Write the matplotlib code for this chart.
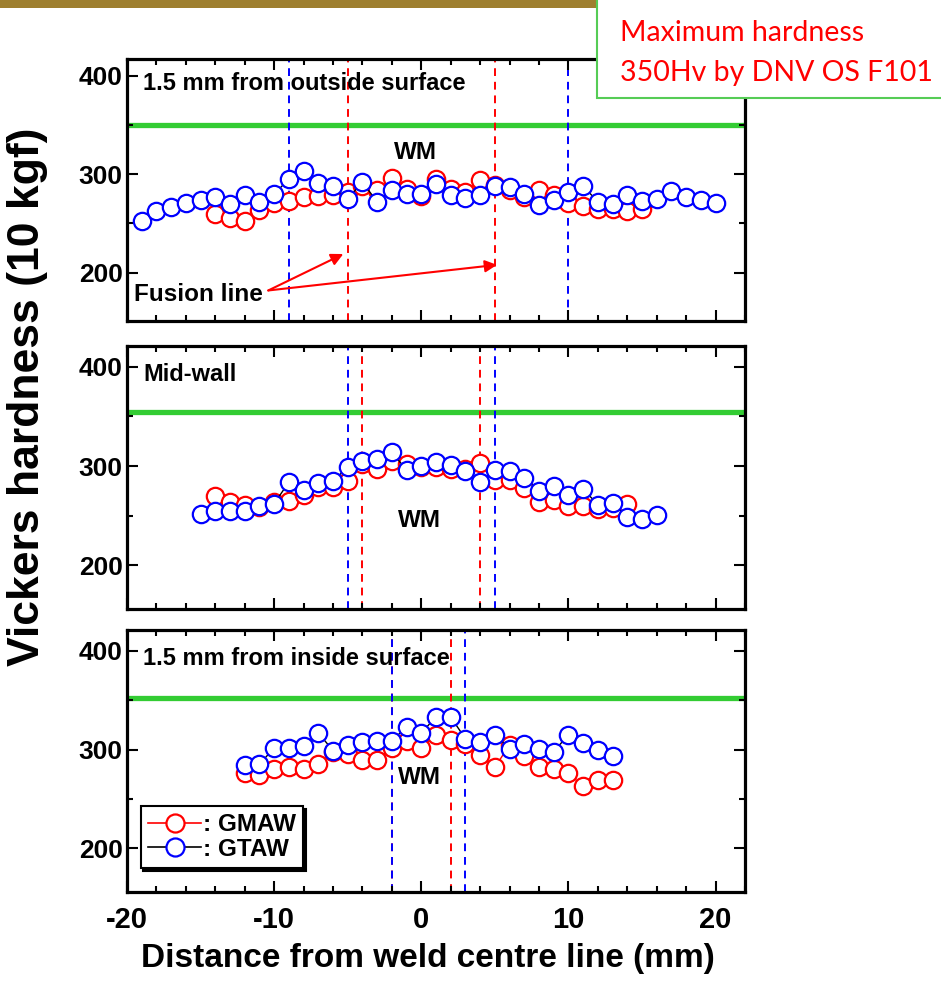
import matplotlib
matplotlib.use("Agg")
import matplotlib.pyplot as plt
from matplotlib.lines import Line2D
from matplotlib.patches import Rectangle
from matplotlib.ticker import MultipleLocator

plt.rcParams['font.family'] = ['Liberation Sans', 'DejaVu Sans']
plt.rcParams['font.weight'] = 'bold'
plt.rcParams['axes.unicode_minus'] = False

# ---- data (hardness readings, Hv10) ----
out_gmaw_x = [-14, -13, -12, -11, -10, -9, -8, -7, -6, -5, -4, -3, -2, -1, 0,
              1, 2, 3, 4, 5, 6, 7, 8, 9, 10, 11, 12, 13, 14, 15]
out_gmaw_hv = [260, 256, 253, 264, 271, 273, 277, 278, 279, 282, 288, 284, 296, 285, 278,
               295, 285, 282, 294, 289, 284, 277, 284, 279, 271, 268, 265, 265, 263, 265]
out_gtaw_x = [-19, -18, -17, -16, -15, -14, -13, -12, -11, -10, -9, -8, -7, -6, -5,
              -4, -3, -2, -1, 0, 1, 2, 3, 4, 5, 6, 7, 8, 9, 10,
              11, 12, 13, 14, 15, 16, 17, 18, 19, 20]
out_gtaw_hv = [253, 263, 267, 271, 274, 277, 270, 279, 272, 280, 295, 303, 291, 288, 275,
               292, 272, 284, 280, 280, 290, 279, 276, 279, 288, 287, 280, 269, 274, 282,
               288, 272, 270, 279, 273, 275, 283, 277, 274, 271]

mid_gmaw_x = [-14, -13, -12, -11, -10, -9, -8, -7, -6, -5, -4, -3, -2, -1, 0,
              1, 2, 3, 4, 5, 6, 7, 8, 9, 10, 11, 12, 13, 14]
mid_gmaw_hv = [270, 264, 261, 259, 264, 265, 271, 279, 279, 285, 302, 297, 305, 302, 299,
               299, 297, 297, 303, 286, 286, 278, 264, 266, 260, 260, 257, 258, 262]
mid_gtaw_x = [-15, -14, -13, -12, -11, -10, -9, -8, -7, -6, -5, -4, -3, -2, -1, 0,
              1, 2, 3, 4, 5, 6, 7, 8, 9, 10, 11, 12, 13, 14, 15, 16]
mid_gtaw_hv = [252, 255, 255, 255, 260, 262, 284, 276, 283, 285, 299, 305, 307, 314, 296, 300,
               304, 301, 295, 284, 296, 295, 288, 275, 280, 271, 277, 261, 263, 249, 247, 251]

in_gmaw_x = [-12, -11, -10, -9, -8, -7, -6, -5, -4, -3, -2, -1, 0,
             1, 2, 3, 4, 5, 6, 7, 8, 9, 10, 11, 12, 13]
in_gmaw_hv = [276, 274, 280, 282, 280, 285, 298, 296, 290, 290, 302, 309, 302,
              315, 310, 306, 295, 282, 305, 294, 282, 280, 276, 263, 269, 269]
in_gtaw_x = [-12, -11, -10, -9, -8, -7, -6, -5, -4, -3, -2, -1, 0,
             1, 2, 3, 4, 5, 6, 7, 8, 9, 10, 11, 12, 13]
in_gtaw_hv = [284, 285, 302, 302, 304, 317, 299, 305, 308, 309, 309, 323, 317,
              333, 333, 311, 308, 315, 301, 306, 301, 298, 315, 307, 300, 294]

panel_titles = ['1.5 mm from outside surface', 'Mid-wall', '1.5 mm from inside surface']
fusion_gmaw = [[-5, 5], [-4, 4], [-2, 2]]
fusion_gtaw = [[-9, 10], [-5, 5], [-2, 3]]
limit_hv = [350, 354, 352]
wm_pos = [(-0.4, 322), (-0.1, 245), (-0.1, 272)]

series = [(out_gmaw_x, out_gmaw_hv, out_gtaw_x, out_gtaw_hv),
          (mid_gmaw_x, mid_gmaw_hv, mid_gtaw_x, mid_gtaw_hv),
          (in_gmaw_x, in_gmaw_hv, in_gtaw_x, in_gtaw_hv)]

W, H = 941, 981
fig = plt.figure(figsize=(W / 100, H / 100), dpi=100)

# panel boxes in pixels (top, bottom) and y ranges
boxes = [(59, 321), (346, 609), (630, 892)]
ylims = [(151, 417), (156, 421), (156, 421)]
left_px, right_px = 127, 745

axes = []
for i, (top, bot) in enumerate(boxes):
    ax = fig.add_axes([left_px / W, 1 - bot / H, (right_px - left_px) / W, (bot - top) / H])
    gx, gy, tx, ty = series[i]
    ax.axhline(limit_hv[i], color='#33CC33', lw=3.8, zorder=1)
    for xv in fusion_gmaw[i]:
        ax.axvline(xv, color='red', lw=1.4, ls=(0, (4, 3)), zorder=1)
    for xv in fusion_gtaw[i]:
        ax.axvline(xv, color='blue', lw=1.4, ls=(0, (4, 3)), zorder=1)
    ax.plot(gx, gy, '-o', color='red', lw=1, ms=12.5, mew=1.6, mfc='white', mec='red', zorder=3)
    ax.plot(tx, ty, '-o', color='black', lw=1, ms=12.5, mew=1.6, mfc='white', mec='blue', zorder=4)
    ax.set_xlim(-20, 22)
    ax.set_ylim(*ylims[i])
    ax.xaxis.set_major_locator(MultipleLocator(10))
    ax.xaxis.set_minor_locator(MultipleLocator(2))
    ax.yaxis.set_major_locator(MultipleLocator(100))
    ax.yaxis.set_minor_locator(MultipleLocator(50))
    ax.tick_params(which='both', direction='in', top=True, right=True, width=1.5)
    ax.tick_params(which='major', length=8)
    ax.tick_params(which='minor', length=4)
    ax.tick_params(axis='y', labelsize=19, pad=3)
    ax.tick_params(axis='x', labelsize=21, pad=10)
    for lab in ax.get_yticklabels() + ax.get_xticklabels():
        lab.set_fontweight('bold')
    for sp in ax.spines.values():
        sp.set_linewidth(2.3)
    if i < 2:
        ax.tick_params(axis='x', labelbottom=False)
    ax.text(-18.9, 392, panel_titles[i], fontsize=17, fontweight='bold', ha='left', va='center', zorder=5)
    ax.text(wm_pos[i][0], wm_pos[i][1], 'WM', fontsize=17.5, fontweight='bold', ha='center', va='center', zorder=5)
    axes.append(ax)

# fusion line annotation in the top panel
ax0 = axes[0]
ax0.text(-19.5, 178, 'Fusion line', fontsize=17.5, fontweight='bold', ha='left', va='center')
for end in [(-5.3, 219), (5.15, 208)]:
    ax0.annotate('', xy=end, xytext=(-10.4, 182),
                 arrowprops=dict(arrowstyle='-|>', color='red', lw=1.5, mutation_scale=18,
                                 shrinkA=0, shrinkB=0))

# legend in the bottom panel
handles = [Line2D([], [], color='red', lw=1.2, marker='o', ms=13, mfc='white', mec='red', mew=1.6),
           Line2D([], [], color='black', lw=1.2, marker='o', ms=13, mfc='white', mec='blue', mew=1.6)]
leg = axes[2].legend(handles, [': GMAW', ': GTAW'], loc='lower left', bbox_to_anchor=(0.022, 0.092),
                     borderaxespad=0, fancybox=False, shadow={'color': 'black', 'alpha': 1},
                     prop={'weight': 'bold', 'size': 17.5}, handlelength=2.2, handletextpad=0.05,
                     labelspacing=0.05, borderpad=0.3, framealpha=1)
leg.get_frame().set_edgecolor('black')
leg.get_frame().set_linewidth(1.5)

fig.text(28 / W, 1 - 397 / H, 'Vickers hardness (10 kgf)', rotation=90, fontsize=32,
         fontweight='bold', ha='center', va='center')
fig.text(428 / W, 1 - 958 / H, 'Distance from weld centre line (mm)', fontsize=24,
         fontweight='bold', ha='center', va='center')

# slide decorations: gold bar and the note box
fig.patches.append(Rectangle((0, 1 - 8 / H), 597 / W, 8 / H, transform=fig.transFigure,
                             facecolor='#9E7F2F', edgecolor='none', zorder=6))
fig.patches.append(Rectangle((597 / W, 1 - 98 / H), 1, 1, transform=fig.transFigure,
                             facecolor='white', edgecolor='#55CC55', lw=1.5, zorder=6))
fig.text(620 / W, 1 - 33 / H, 'Maximum hardness', color='red', fontsize=20.5,
         family=['Lato', 'DejaVu Sans'], fontweight='normal', ha='left', va='center', zorder=7)
fig.text(620 / W, 1 - 73 / H, '350Hv by DNV OS F101', color='red', fontsize=20.5,
         family=['Lato', 'DejaVu Sans'], fontweight='normal', ha='left', va='center', zorder=7)

fig.savefig('out.png', dpi=100)
